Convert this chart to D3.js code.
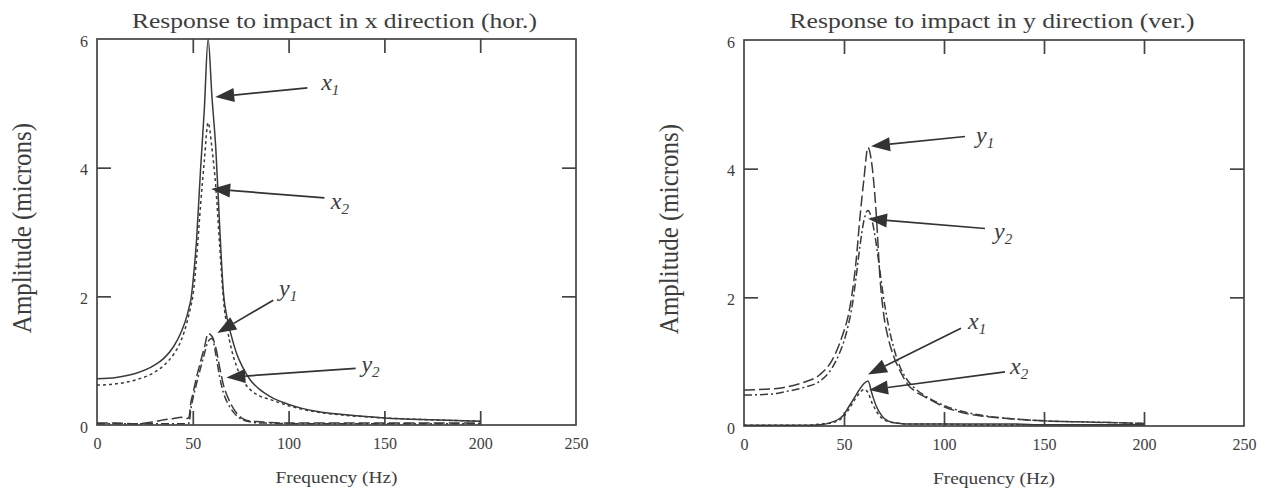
<!DOCTYPE html>
<html>
<head>
<meta charset="utf-8">
<script src="https://cdn.jsdelivr.net/npm/d3@7"></script>
<style>
  body { margin: 0; background: #fff; }
  svg text { font-family: "Liberation Serif", "DejaVu Serif", serif; fill: #3d3d3d; }
</style>
</head>
<body>
<svg id="chart" width="1273" height="496"></svg>
<script>
// frequency grids (Hz)
const freqH = [0, 10, 20, 30, 35, 40, 44, 47, 48, 49, 50, 52, 54, 56, 58, 60, 62, 64, 66, 68, 70, 73, 76, 80, 85, 90, 100, 115, 130, 150, 175, 200];
const freqV = [0, 10, 15, 20, 30, 38, 44, 48, 50, 52, 54, 56, 58, 60, 62, 64, 66, 68, 70, 72, 75, 78, 82, 86, 90, 100, 110, 120, 135, 150, 175, 200];

// impact in x direction (hor.), amplitude in microns
const hX1 = [0.72, 0.74, 0.8, 0.93, 1.04, 1.22, 1.45, 1.7, 1.82, 1.95, 2.2, 2.9, 3.95, 4.9, 6.0, 5.1, 4.3, 3.1, 2.05, 1.65, 1.4, 1.1, 0.9, 0.7, 0.55, 0.45, 0.32, 0.21, 0.16, 0.11, 0.08, 0.06];
const hX2 = [0.62, 0.64, 0.7, 0.82, 0.93, 1.1, 1.32, 1.6, 1.72, 1.85, 2.0, 2.6, 3.4, 4.1, 4.7, 4.3, 3.7, 2.8, 1.95, 1.5, 1.2, 0.9, 0.7, 0.55, 0.45, 0.4, 0.3, 0.2, 0.15, 0.11, 0.08, 0.06];
const hY1 = [0.03, 0.03, 0.02, 0.05, 0.08, 0.1, 0.12, 0.1, 0.12, 0.35, 0.48, 0.75, 0.98, 1.2, 1.42, 1.38, 1.2, 0.9, 0.62, 0.45, 0.32, 0.18, 0.1, 0.06, 0.05, 0.04, 0.03, 0.03, 0.03, 0.03, 0.03, 0.03];
const hY2 = [0.02, 0.02, 0.02, 0.02, 0.02, 0.02, 0.02, 0.02, 0.03, 0.25, 0.4, 0.65, 0.88, 1.1, 1.3, 1.35, 1.1, 0.75, 0.5, 0.35, 0.25, 0.14, 0.08, 0.05, 0.03, 0.03, 0.02, 0.02, 0.02, 0.02, 0.02, 0.02];

// impact in y direction (ver.)
const vY1 = [0.56, 0.57, 0.58, 0.6, 0.68, 0.8, 1.02, 1.3, 1.48, 1.7, 2.05, 2.55, 3.25, 3.85, 4.33, 4.05, 3.35, 2.3, 1.7, 1.38, 1.07, 0.86, 0.64, 0.53, 0.46, 0.3, 0.2, 0.15, 0.11, 0.08, 0.06, 0.04];
const vY2 = [0.48, 0.49, 0.5, 0.53, 0.6, 0.7, 0.9, 1.15, 1.32, 1.55, 1.85, 2.3, 2.8, 3.2, 3.35, 3.2, 2.85, 2.4, 1.95, 1.6, 1.2, 0.92, 0.7, 0.57, 0.48, 0.32, 0.22, 0.16, 0.11, 0.08, 0.06, 0.04];
const vX1 = [0.01, 0.01, 0.01, 0.01, 0.01, 0.02, 0.06, 0.12, 0.18, 0.28, 0.38, 0.48, 0.58, 0.66, 0.7, 0.5, 0.32, 0.2, 0.12, 0.08, 0.05, 0.04, 0.03, 0.03, 0.03, 0.03, 0.03, 0.03, 0.03, 0.02, 0.02, 0.02];
const vX2 = [0.01, 0.01, 0.01, 0.01, 0.01, 0.03, 0.05, 0.1, 0.15, 0.24, 0.34, 0.44, 0.52, 0.57, 0.52, 0.36, 0.24, 0.15, 0.1, 0.07, 0.05, 0.04, 0.03, 0.03, 0.03, 0.03, 0.02, 0.02, 0.02, 0.02, 0.02, 0.02];

const xTicks = [0, 50, 100, 150, 200, 250];
const yTicks = [0, 2, 4, 6];

// arrow annotations in data units: [Hz, microns]
const hNotes = [
  { name: 'x', sub: '1', tip: [61.7, 5.1], tail: [109.8, 5.24], label: [117, 5.3] },
  { name: 'x', sub: '2', tip: [59.6, 3.67], tail: [118.7, 3.53], label: [122, 3.45] },
  { name: 'y', sub: '1', tip: [62.8, 1.43], tail: [92, 1.94], label: [95, 2.1] },
  { name: 'y', sub: '2', tip: [67.5, 0.74], tail: [135, 0.88], label: [138, 0.92] }
];
const vNotes = [
  { name: 'y', sub: '1', tip: [63.5, 4.35], tail: [110.5, 4.5], label: [116, 4.5] },
  { name: 'y', sub: '2', tip: [62, 3.22], tail: [120.5, 3.07], label: [125, 3.0] },
  { name: 'x', sub: '1', tip: [62, 0.8], tail: [108.5, 1.52], label: [112, 1.6] },
  { name: 'x', sub: '2', tip: [62.5, 0.56], tail: [130.5, 0.84], label: [133, 0.9] }
];

const dashes = { x1: null, x2: '3,3', y1: '11,4', y2: '8,3,2,3' };

const svg = d3.select('#chart');

function drawPanel(opts) {
  const { left, right, top, bottom, title, freq, series, notes } = opts;
  const x = d3.scaleLinear().domain([0, 250]).range([left, right]);
  const y = d3.scaleLinear().domain([0, 6]).range([bottom, top]);
  const g = svg.append('g');
  const tickLen = 14;

  // frame
  g.append('rect')
    .attr('x', left).attr('y', top)
    .attr('width', right - left).attr('height', bottom - top)
    .attr('fill', 'none').attr('stroke', '#444').attr('stroke-width', 1.7);

  // inward ticks, all four sides
  const axB = g.append('g').attr('transform', `translate(0,${bottom})`)
    .call(d3.axisBottom(x).tickValues(xTicks).tickSize(-tickLen).tickPadding(13));
  const axT = g.append('g').attr('transform', `translate(0,${top})`)
    .call(d3.axisTop(x).tickValues(xTicks.slice(1, -1)).tickSize(-tickLen).tickFormat(''));
  const axL = g.append('g').attr('transform', `translate(${left},0)`)
    .call(d3.axisLeft(y).tickValues(yTicks).tickSize(-tickLen).tickPadding(9).tickFormat(d3.format('d')));
  const axR = g.append('g').attr('transform', `translate(${right},0)`)
    .call(d3.axisRight(y).tickValues(yTicks.slice(1, -1)).tickSize(-tickLen).tickFormat(''));
  [axB, axT, axL, axR].forEach(a => {
    a.select('.domain').remove();
    a.selectAll('line').attr('stroke', '#444').attr('stroke-width', 1.7);
    a.selectAll('text').style('font-family', '"Liberation Serif", serif').style('font-size', '16px').attr('fill', '#444');
  });
  axB.selectAll('line').filter(d => d === 0 || d === 250).remove();
  axL.selectAll('line').filter(d => d === 0 || d === 6).remove();
  axL.selectAll('text').attr('dy', '0.45em');

  // curves
  const line = d3.line().x(d => x(d[0])).y(d => y(d[1])).curve(d3.curveMonotoneX);
  series.forEach(s => {
    g.append('path')
      .datum(freq.map((f, i) => [f, s.values[i]]))
      .attr('d', line)
      .attr('fill', 'none')
      .attr('stroke', '#3a3a3a')
      .attr('stroke-width', 1.5)
      .attr('stroke-dasharray', dashes[s.key]);
  });

  // arrows and labels
  notes.forEach(n => {
    const tx = x(n.tip[0]), ty = y(n.tip[1]);
    const sx = x(n.tail[0]), sy = y(n.tail[1]);
    const ang = Math.atan2(sy - ty, sx - tx);
    const len = 19, hw = 7;
    const bx = tx + Math.cos(ang) * len, by = ty + Math.sin(ang) * len;
    g.append('line')
      .attr('x1', sx).attr('y1', sy).attr('x2', bx).attr('y2', by)
      .attr('stroke', '#333').attr('stroke-width', 1.7);
    const px = -Math.sin(ang) * hw, py = Math.cos(ang) * hw;
    g.append('path')
      .attr('d', `M${tx},${ty}L${bx + px},${by + py}L${bx - px},${by - py}Z`)
      .attr('fill', '#333');
    const t = g.append('text')
      .attr('x', x(n.label[0])).attr('y', y(n.label[1]) + 6)
      .style('font-size', '24px').style('font-style', 'italic');
    t.append('tspan').text(n.name);
    t.append('tspan').attr('dy', 5).style('font-size', '15px').text(n.sub);
  });

  // titles (the scan is slightly stretched sideways)
  g.append('text')
    .attr('x', (left + right) / 2 - 2).attr('y', 28)
    .attr('text-anchor', 'middle')
    .attr('textLength', 405).attr('lengthAdjust', 'spacingAndGlyphs')
    .style('font-size', '22px')
    .text(title);
  g.append('text')
    .attr('x', (left + right) / 2).attr('y', bottom + 58)
    .attr('text-anchor', 'middle')
    .attr('textLength', 122).attr('lengthAdjust', 'spacingAndGlyphs')
    .style('font-size', '17px')
    .text('Frequency (Hz)');
  g.append('text')
    .attr('transform', `translate(${left - 66},${(top + bottom) / 2 - 4}) rotate(-90) scale(1,1.12)`)
    .attr('text-anchor', 'middle')
    .style('font-size', '25px')
    .text('Amplitude (microns)');
}

drawPanel({
  left: 97, right: 576, top: 39, bottom: 425,
  title: 'Response to impact in x direction (hor.)',
  freq: freqH,
  series: [
    { key: 'x1', values: hX1 },
    { key: 'x2', values: hX2 },
    { key: 'y1', values: hY1 },
    { key: 'y2', values: hY2 }
  ],
  notes: hNotes
});

drawPanel({
  left: 744, right: 1244, top: 40, bottom: 426,
  title: 'Response to impact in y direction (ver.)',
  freq: freqV,
  series: [
    { key: 'y1', values: vY1 },
    { key: 'y2', values: vY2 },
    { key: 'x1', values: vX1 },
    { key: 'x2', values: vX2 }
  ],
  notes: vNotes
});
</script>
</body>
</html>
